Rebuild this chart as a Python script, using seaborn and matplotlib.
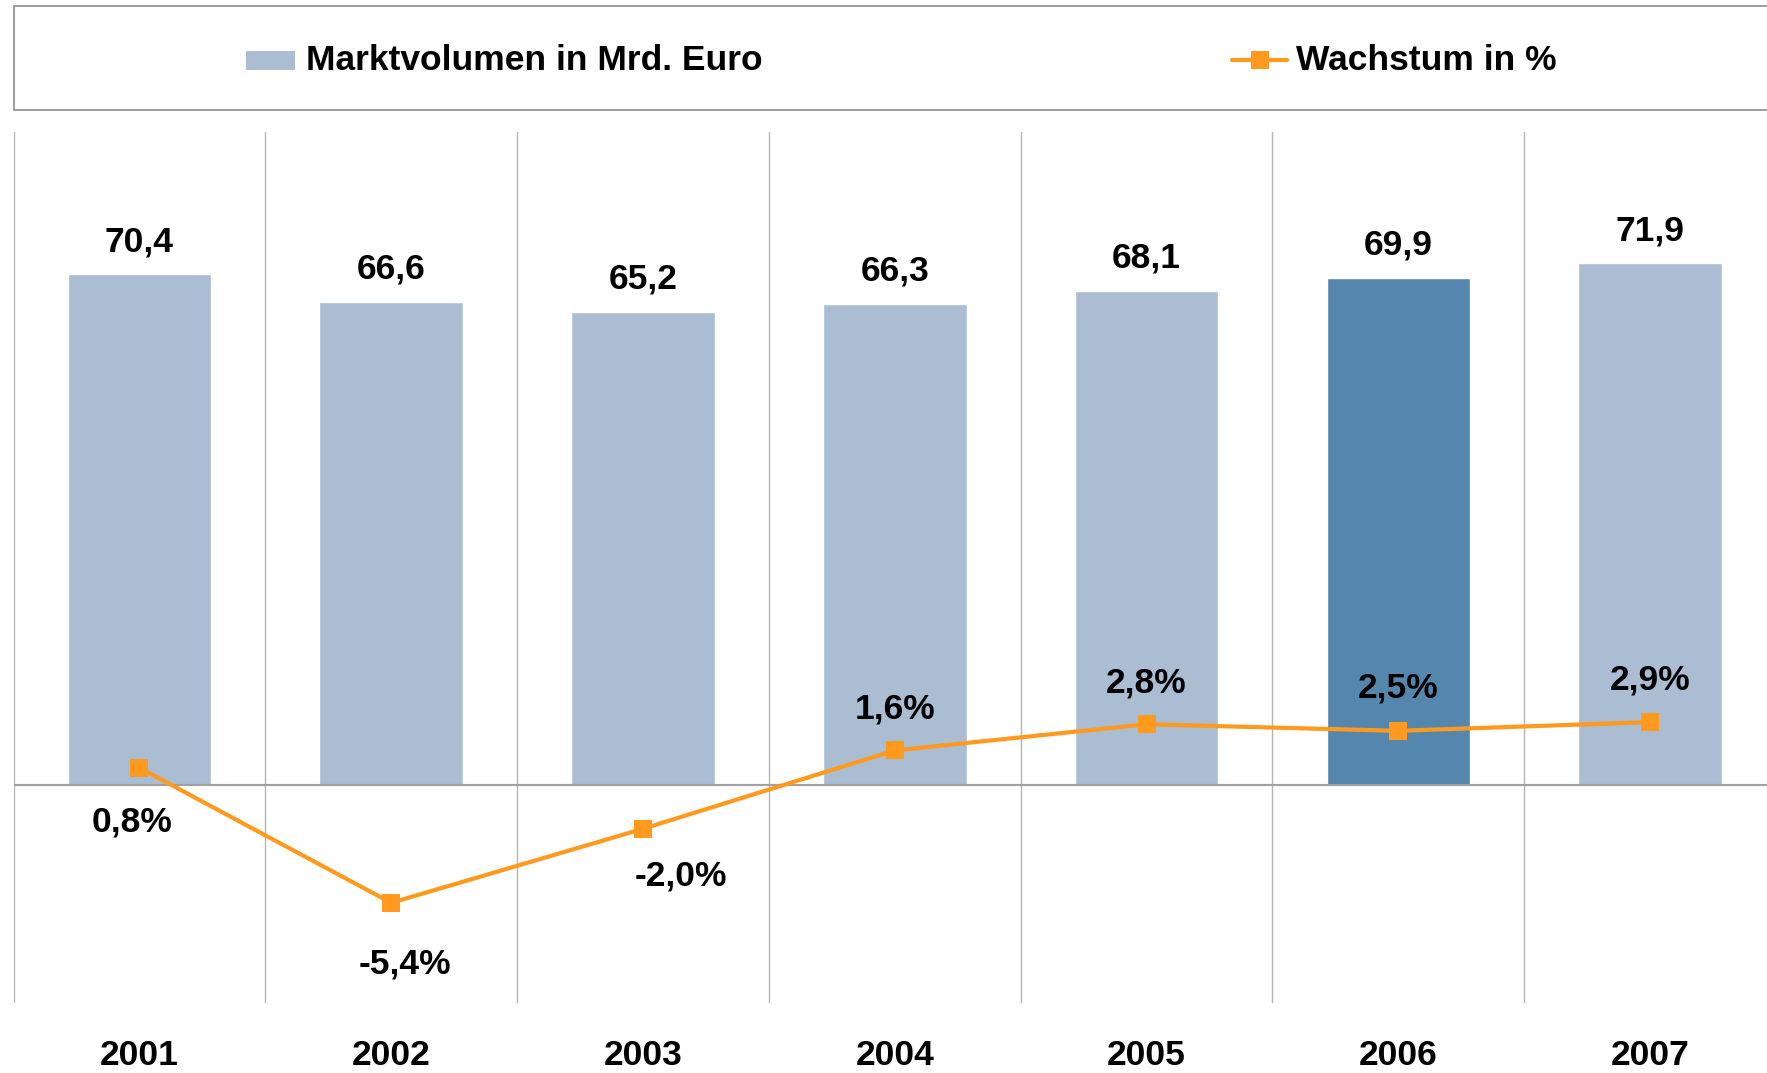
import numpy as np
import pandas as pd
import matplotlib
matplotlib.use("Agg")
import matplotlib.pyplot as plt
from matplotlib.patches import Rectangle
from matplotlib.lines import Line2D
import seaborn as sns

# ---- data ----
years = ["2001", "2002", "2003", "2004", "2005", "2006", "2007"]
volume = [70.4, 66.6, 65.2, 66.3, 68.1, 69.9, 71.9]
growth = [0.8, -5.4, -2.0, 1.6, 2.8, 2.5, 2.9]
highlight_year = "2006"
bar_label = "Marktvolumen in Mrd. Euro"
line_label = "Wachstum in %"

# ---- styles ----
LIGHT = "#ABBDD3"
DARK = "#5586AD"
ORANGE = "#FF9A1E"
GRID = "#B4B4B4"
FS = 25.5
growth_offsets = [(-5, -39), (10, -44), (27, -34), (0, 30), (0, 30), (0, 31), (0, 30)]

sns.set_theme(style="white")
plt.rcParams["font.family"] = ["Liberation Sans", "DejaVu Sans"]
plt.rcParams["font.weight"] = "bold"

W, H = 1767, 1073
fig = plt.figure(figsize=(W / 100, H / 100), dpi=100)

# axes geometry in pixels
x0, x1 = 13.5, 1776
ytop, ybot = 132, 1003
ax = fig.add_axes([x0 / W, (H - ybot) / H, (x1 - x0) / W, (ybot - ytop) / H])

df = pd.DataFrame({"Jahr": years, "Volumen": volume, "Wachstum": growth})
palette = {y: (DARK if y == highlight_year else LIGHT) for y in years}
sns.barplot(data=df, x="Jahr", y="Volumen", hue="Jahr", palette=palette,
            legend=False, width=0.57, saturation=1, ax=ax, zorder=2)
ax.set_ylim(-30, 90)
ax.set_xlim(-0.5, len(years) - 0.5)

for i, v in enumerate(volume):
    ax.annotate(f"{v:.1f}".replace(".", ","), (i, v), xytext=(0, 23.5),
                textcoords="offset points", ha="center", va="center",
                fontsize=FS, fontweight="bold", color="black", zorder=5)

# vertical gridlines at category boundaries
for b in np.arange(-0.5, len(years) + 0.5, 1.0):
    ax.axvline(b, color=GRID, lw=1.0, zorder=1)
ax.axhline(0, color="#A0A0A0", lw=1.5, zorder=3)

for s in ax.spines.values():
    s.set_visible(False)
ax.set_yticks([])
ax.set_xlabel("")
ax.set_ylabel("")
ax.tick_params(axis="x", length=0, pad=26, labelsize=FS)
for t in ax.get_xticklabels():
    t.set_fontweight("bold")
    t.set_color("black")

# secondary axis for growth
ax2 = ax.twinx()
sns.lineplot(x=np.arange(len(years)), y=growth, ax=ax2, color=ORANGE, lw=3.0,
             marker="s", markersize=13, markeredgewidth=0, zorder=4)
ax2.set_ylim(-10, 30)
ax2.set_yticks([])
for s in ax2.spines.values():
    s.set_visible(False)
for i, (g, off) in enumerate(zip(growth, growth_offsets)):
    ax2.annotate(f"{g:.1f}".replace(".", ",") + "%", (i, g), xytext=off,
                 textcoords="offset points", ha="center", va="center",
                 fontsize=FS, fontweight="bold", color="black", zorder=5)

# ---- legend box (figure level) ----
lx0, ly_top, ly_bot = 13.5, 6, 110
fig.patches.append(Rectangle((lx0 / W, (H - ly_bot) / H), (W + 20 - lx0) / W,
                             (ly_bot - ly_top) / H, transform=fig.transFigure,
                             facecolor="white", edgecolor="#8C8C8C", lw=1.2))
ly = (H - 60) / H
fig.patches.append(Rectangle((246 / W, (H - 70) / H), 49 / W, 19 / H,
                             transform=fig.transFigure, facecolor=LIGHT,
                             edgecolor="none"))
fig.text(306 / W, ly, bar_label, fontsize=FS, fontweight="bold",
         va="center", ha="left", color="black")
fig.add_artist(Line2D([1232 / W, 1287 / W], [ly, ly], transform=fig.transFigure,
                      color=ORANGE, lw=3.0))
fig.add_artist(Line2D([1259.5 / W], [ly], transform=fig.transFigure,
                      color=ORANGE, marker="s", markersize=13,
                      markeredgewidth=0, linestyle="none"))
fig.text(1296 / W, ly, line_label, fontsize=FS, fontweight="bold",
         va="center", ha="left", color="black")

fig.savefig("out.png", dpi=100, facecolor="white")
